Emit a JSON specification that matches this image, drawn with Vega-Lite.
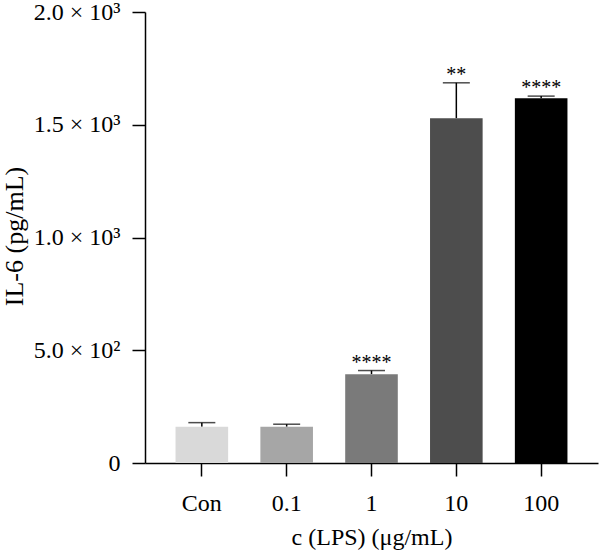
{
  "$schema": "https://vega.github.io/schema/vega-lite/v6.json",
  "width": 453,
  "height": 451,
  "autosize": {"type": "none"},
  "padding": {"left": 145, "top": 12, "right": 2, "bottom": 88},
  "background": "white",
  "config": {
    "view": {"stroke": null},
    "font": "Liberation Serif",
    "axis": {
      "domainColor": "black",
      "domainWidth": 1.5,
      "tickColor": "black",
      "tickWidth": 1.5,
      "tickSize": 13,
      "labelColor": "black",
      "titleColor": "black",
      "labelFont": "Liberation Serif",
      "titleFont": "Liberation Serif",
      "labelFontSize": 24,
      "titleFontSize": 24,
      "titleFontWeight": "normal",
      "grid": false
    }
  },
  "data": {
    "values": [
      {"group": "Con", "mean": 161, "upper": 179, "sig": "", "color": "#d9d9d9"},
      {"group": "0.1", "mean": 161, "upper": 172, "sig": "", "color": "#a6a6a6"},
      {"group": "1", "mean": 394, "upper": 410, "sig": "****", "color": "#7a7a7a"},
      {"group": "10", "mean": 1529, "upper": 1686, "sig": "**", "color": "#4d4d4d"},
      {"group": "100", "mean": 1618, "upper": 1627, "sig": "****", "color": "#000000"}
    ]
  },
  "encoding": {
    "x": {
      "field": "group",
      "type": "nominal",
      "sort": null,
      "scale": {"paddingInner": 0.38, "paddingOuter": 0.36},
      "axis": {
        "title": "c (LPS) (μg/mL)",
        "labelAngle": 0,
        "labelPadding": 15,
        "titlePadding": 10
      }
    }
  },
  "layer": [
    {
      "mark": {"type": "rule", "color": "black", "strokeWidth": 1.5},
      "encoding": {
        "y": {"field": "mean", "type": "quantitative"},
        "y2": {"field": "upper"}
      }
    },
    {
      "mark": {"type": "tick", "color": "black", "thickness": 1.5, "size": 27, "orient": "horizontal"},
      "encoding": {
        "y": {"field": "upper", "type": "quantitative"}
      }
    },
    {
      "mark": {"type": "bar"},
      "encoding": {
        "y": {
          "field": "mean",
          "type": "quantitative",
          "scale": {"domain": [0, 2000], "nice": false},
          "axis": {
            "title": "IL-6 (pg/mL)",
            "values": [0, 500, 1000, 1500, 2000],
            "labelExpr": "datum.value == 0 ? '0' : datum.value == 500 ? '5.0 × 10²' : datum.value == 1000 ? '1.0 × 10³' : datum.value == 1500 ? '1.5 × 10³' : '2.0 × 10³'",
            "labelPadding": 12,
            "titleFontSize": 26,
            "titleX": -131,
            "titleY": 224,
            "titleAlign": "center",
            "titleBaseline": "middle",
            "titleAngle": -90
          }
        },
        "color": {"field": "color", "type": "nominal", "scale": null}
      }
    },
    {
      "mark": {"type": "text", "fontSize": 20, "baseline": "alphabetic", "dy": -2, "color": "black", "font": "Liberation Serif"},
      "encoding": {
        "y": {"field": "upper", "type": "quantitative"},
        "text": {"field": "sig"}
      }
    }
  ]
}
